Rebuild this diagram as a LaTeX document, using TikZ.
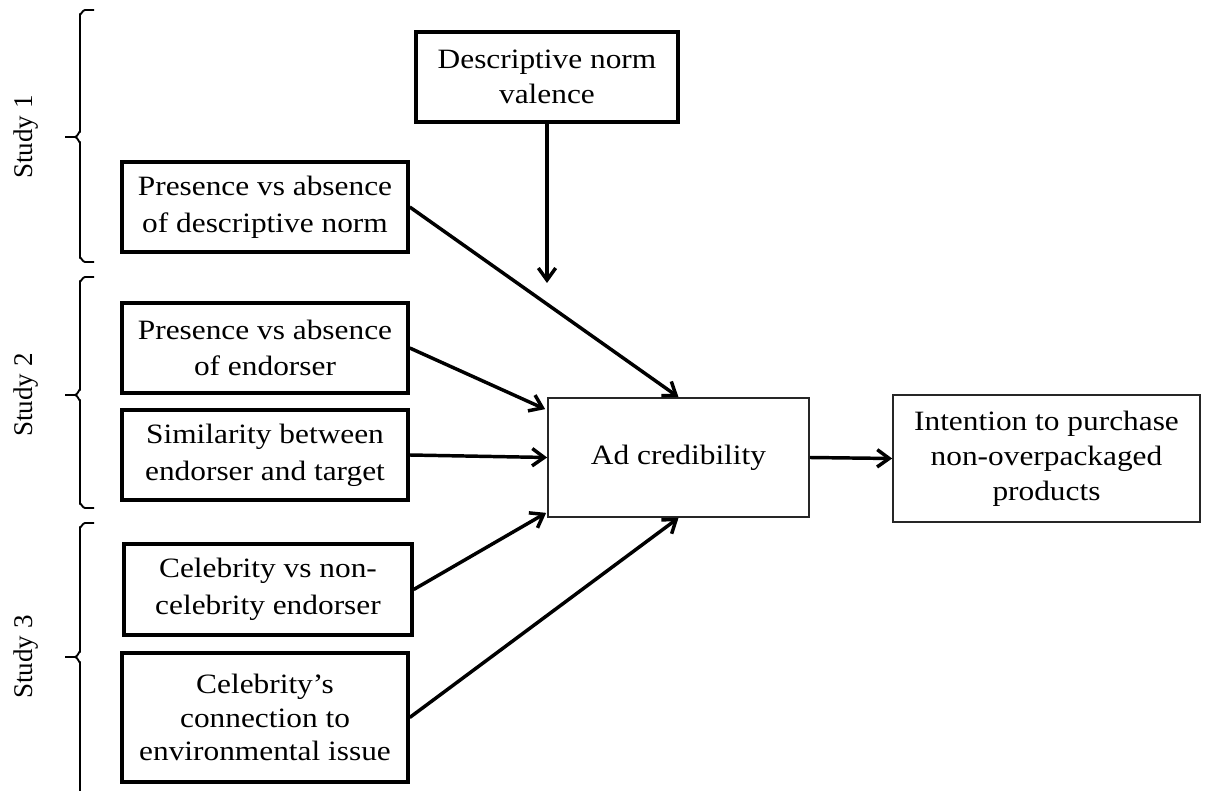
\documentclass[tikz,border=0pt]{standalone}
\usepackage{fontspec}
\setmainfont[FakeStretch=1.12]{Liberation Serif}
\newfontfamily\plainserif{Liberation Serif}
\usetikzlibrary{arrows.meta,calc}
\begin{document}
\begin{tikzpicture}[x=0.75pt,y=-0.75pt,
  font=\fontsize{21}{27.5}\selectfont,
  boxthick/.style={draw=black,line width=2.6pt,align=center,inner sep=0pt},
  boxthin/.style={draw=black!85,line width=1.3pt,align=center,inner sep=0pt},
  conn/.style={line width=2.6pt,-{Straight Barb[length=9pt,width=13pt,line width=2.6pt]}},
  bracestyle/.style={line width=1.4pt,line join=round},
  studylabel/.style={rotate=90,font=\plainserif\fontsize{20.25}{24}\selectfont}]
\useasboundingbox (0,0) rectangle (1218,791);
\clip (0,0) rectangle (1218,791);

% boxes
\node[boxthick,minimum width=196.5pt,minimum height=67.5pt,font=\fontsize{21}{26.25}\selectfont] (val) at (547,77) {Descriptive norm\\valence};
\node[boxthick,minimum width=214.5pt,minimum height=67.5pt] (pdn) at (265,207) {Presence vs absence\\of descriptive norm};
\node[boxthick,minimum width=214.5pt,minimum height=67.5pt] (pen) at (265,348) {Presence vs absence\\of endorser};
\node[boxthick,minimum width=214.5pt,minimum height=67.5pt] (sim) at (265,455) {Similarity between\\endorser and target};
\node[boxthick,minimum width=216pt,minimum height=68.25pt] (cel) at (268,589.5) {Celebrity vs non-\\celebrity endorser};
\node[boxthick,minimum width=214.5pt,minimum height=96.75pt,font=\fontsize{21}{25}\selectfont] (con) at (265,717.5) {Celebrity’s\\connection to\\environmental issue};
\node[boxthin,minimum width=195.75pt,minimum height=89.25pt] (ad) at (678.5,457.5) {Ad credibility};
\node[boxthin,minimum width=230.25pt,minimum height=95.25pt,font=\fontsize{21}{26.25}\selectfont] (int) at (1046.5,458.5) {Intention to purchase\\non-overpackaged\\products};

% connector end points
\coordinate (valend) at (547,283);
\coordinate (penend) at ($(ad.north west)+(-2,12)$);
\coordinate (celend) at ($(ad.south west)+(-1,-5)$);

% connectors
\draw[conn] (val.south) -- (valend);
\draw[conn] (pdn.east) -- (ad.north);
\draw[conn] (pen.east) -- (penend);
\draw[conn] (sim.east) -- (ad.west);
\draw[conn] (cel.east) -- (celend);
\draw[conn] (con.east) -- (ad.south);
\draw[conn] (ad.east) -- (int.west);

% braces
\draw[bracestyle] (94,10) -- (85,10) to[out=180,in=-90] (80,14) -- (80,132) to[out=90,in=0] (75,137) -- (65,137);
\draw[bracestyle] (75,137) to[out=0,in=-90] (80,142) -- (80,258) to[out=90,in=180] (85,262) -- (94,262);
\draw[bracestyle] (94,277) -- (85,277) to[out=180,in=-90] (80,281) -- (80,390) to[out=90,in=0] (75,395) -- (65,395);
\draw[bracestyle] (75,395) to[out=0,in=-90] (80,400) -- (80,504) to[out=90,in=180] (85,508) -- (94,508);
\draw[bracestyle] (94,523) -- (85,523) to[out=180,in=-90] (80,527) -- (80,652) to[out=90,in=0] (75,657) -- (65,657);
\draw[bracestyle] (75,657) to[out=0,in=-90] (80,662) -- (80,800);

% study labels
\node[studylabel] (s1) at (26,137) {Study 1};
\node[studylabel] (s2) at (26,395) {Study 2};
\node[studylabel] (s3) at (26,657) {Study 3};
\end{tikzpicture}
\end{document}
